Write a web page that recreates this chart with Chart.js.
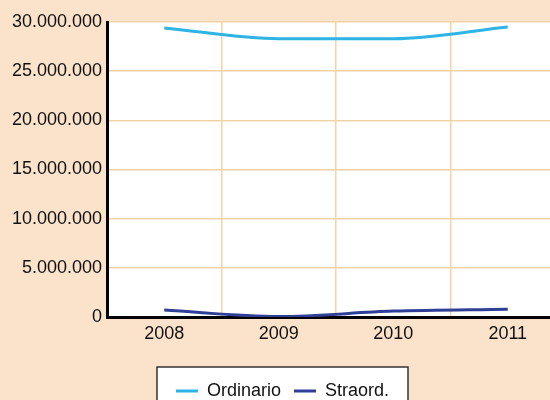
<!DOCTYPE html>
<html>
<head>
<meta charset="utf-8">
<script src="https://cdn.jsdelivr.net/npm/chart.js@4/dist/chart.umd.min.js"></script>
<style>
  html, body { margin: 0; padding: 0; background: #fbe3cb; overflow: hidden; }
  #wrap { width: 565px; height: 400px; position: relative; }
</style>
</head>
<body>
<div id="wrap"><canvas id="chart"></canvas></div>
<script>
const years = ["2008", "2009", "2010", "2011"];
const ordinario = [29400000, 28300000, 28300000, 29500000];
const straord = [700000, 50000, 600000, 800000];
const yTicks = [0, 5000000, 10000000, 15000000, 20000000, 25000000, 30000000];

const fmt = (v) => String(v).replace(/\B(?=(\d{3})+(?!\d))/g, ".");

// white plot area + boxed legend
const plotBg = {
  id: "plotBg",
  beforeDraw(chart) {
    const { ctx, chartArea: a } = chart;
    ctx.save();
    ctx.fillStyle = "#ffffff";
    ctx.fillRect(a.left, a.top, a.right - a.left, a.bottom - a.top);
    ctx.fillRect(157, 367, 251, 40);
    ctx.strokeStyle = "#333333";
    ctx.lineWidth = 1.5;
    ctx.strokeRect(157, 367, 251, 40);
    ctx.restore();
  }
};

const ctx = document.getElementById("chart").getContext("2d");
const chart = new Chart(ctx, {
  type: "line",
  data: {
    labels: years,
    datasets: [
      {
        label: "Ordinario",
        data: ordinario,
        borderColor: "#2db3e4",
        borderWidth: 3,
        pointRadius: 0,
        cubicInterpolationMode: "monotone",
      },
      {
        label: "Straord.",
        data: straord,
        borderColor: "#2f3f98",
        borderWidth: 3,
        pointRadius: 0,
        cubicInterpolationMode: "monotone",
      },
    ],
  },
  options: {
    responsive: true,
    maintainAspectRatio: false,
    animation: false,
    layout: { padding: { top: 22, left: 0, right: 0, bottom: -10 } },
    plugins: {
      tooltip: { enabled: false },
      legend: {
        position: "bottom",
        labels: {
          color: "#111",
          font: { family: "'Liberation Sans', Arial, sans-serif", size: 18 },
          usePointStyle: true,
          pointStyle: "line",
          pointStyleWidth: 22,
          padding: 13,
        },
      },
    },
    scales: {
      x: {
        offset: true,
        grid: { offset: true, color: "#f8d2a6", lineWidth: 1.5, drawTicks: false },
        border: { color: "#000", width: 3 },
        ticks: {
          color: "#111",
          padding: 6,
          font: { family: "'Liberation Sans', Arial, sans-serif", size: 18 },
        },
        afterFit(scale) { scale.height = 52; },
      },
      y: {
        min: 0,
        max: 30000000,
        afterBuildTicks(scale) { scale.ticks = yTicks.map((v) => ({ value: v })); },
        grid: { color: "#efd3a4", lineWidth: 1.5, drawTicks: false },
        border: { color: "#000", width: 3 },
        ticks: {
          color: "#111",
          padding: 5,
          font: { family: "'Liberation Sans', Arial, sans-serif", size: 18 },
          callback: (v) => fmt(v),
        },
        afterFit(scale) { scale.width = 107; },
      },
    },
  },
  plugins: [plotBg],
});
</script>
</body>
</html>
